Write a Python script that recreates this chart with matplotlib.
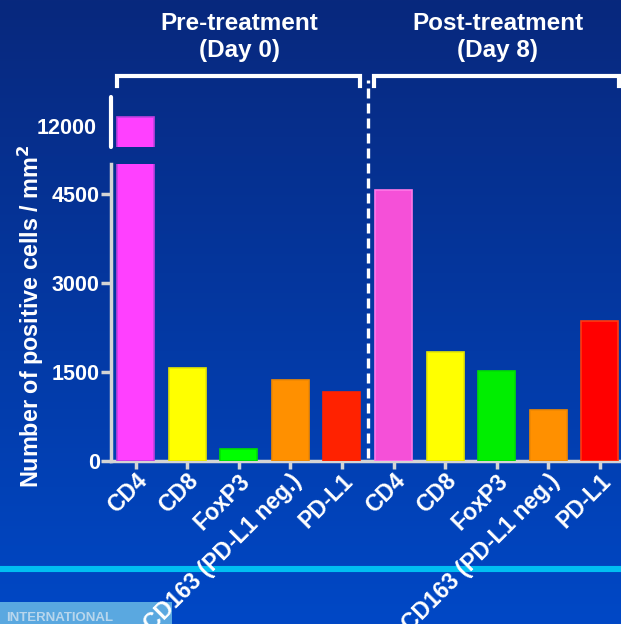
import matplotlib
matplotlib.use("Agg")
import matplotlib.pyplot as plt
import numpy as np
from matplotlib.lines import Line2D
from matplotlib.patches import Rectangle

# FIGURE SIZE (pixels)
WIDTH = 621
HEIGHT = 624
DPI = 100

# DATA
markers = ["CD4", "CD8", "FoxP3", "CD163 (PD-L1 neg.)", "PD-L1"]
pre_values = [12340, 1560, 210, 1360, 1160]
post_values = [4560, 1830, 1520, 860, 2360]
pre_colors = ["#ff40ff", "#ffff00", "#00ff00", "#ff9000", "#ff2200"]
post_colors = ["#f550d8", "#ffff00", "#00ee00", "#ff9000", "#ff0000"]
pre_edges = ["#c040e0", "#e8e800", "#00e000", "#f08800", "#ff2200"]
post_edges = ["#ff78e8", "#e8e800", "#00e000", "#f08800", "#ff3a10"]
yticks_low = [0, 1500, 3000, 4500]
yticks_high = [12000]
group_titles = ["Pre-treatment\n(Day 0)", "Post-treatment\n(Day 8)"]

labels = markers + markers
values = np.array(pre_values + post_values)
colors = pre_colors + post_colors
edges = pre_edges + post_edges
xpos = np.arange(len(values))

FONT = ["Liberation Sans", "DejaVu Sans"]
NARROW = ["Liberation Sans Narrow", "Liberation Sans", "DejaVu Sans"]
SPINE_GRAY = "#d4d4d4"


def px(x, y):
    # pixel (from top-left) -> figure fraction
    return x / WIDTH, 1 - y / HEIGHT


fig = plt.figure(figsize=(WIDTH / DPI, HEIGHT / DPI), dpi=DPI)

# BACKGROUND GRADIENT
bg = fig.add_axes([0, 0, 1, 1], zorder=-10)
top = np.array([8, 40, 125]) / 255
bottom = np.array([0, 72, 198]) / 255
t = np.linspace(0, 1, 256)[:, None]
grad = top + (bottom - top) * t
bg.imshow(grad[:, None, :].repeat(2, axis=1), aspect="auto", extent=[0, 1, 0, 1],
          origin="upper")
bg.set_xlim(0, 1)
bg.set_ylim(0, 1)
bg.axis("off")

# AXES LAYOUT
X0 = 111
STEP = 51.6
XC0 = 135.5
xl = -(XC0 - X0) / STEP
xr = 9.6
ax_w = (xr - xl) * STEP

low_bottom, low_top = 461, 164
ax = fig.add_axes([X0 / WIDTH, 1 - low_bottom / HEIGHT, ax_w / WIDTH,
                   (low_bottom - low_top) / HEIGHT])
hi_bottom, hi_top = 147, 97
ax2 = fig.add_axes([X0 / WIDTH, 1 - hi_bottom / HEIGHT, ax_w / WIDTH,
                    (hi_bottom - hi_top) / HEIGHT])

for a in (ax, ax2):
    a.set_facecolor("none")
    a.bar(xpos, values, width=0.72, color=colors, edgecolor=edges, linewidth=1.2,
          zorder=3)
    a.set_xlim(xl, xr)
    for s in ("top", "right"):
        a.spines[s].set_visible(False)

# lower part
ax.set_ylim(0, 5000)
ax.set_yticks(yticks_low)
ax.set_yticklabels([str(v) for v in yticks_low], family=NARROW, weight="bold",
                   fontsize=15.5, color="white")
ax.set_xticks(xpos)
ax.set_xticklabels(labels, rotation=45, ha="right", va="top",
                   rotation_mode="anchor", family=FONT, weight="bold",
                   fontsize=16.5, color="white")
ax.tick_params(axis="y", direction="out", length=7, width=2.5, color=SPINE_GRAY,
               pad=1)
ax.tick_params(axis="x", direction="out", length=6, width=2.5, color=SPINE_GRAY,
               pad=0)
for s in ("left", "bottom"):
    ax.spines[s].set_color(SPINE_GRAY)
    ax.spines[s].set_linewidth(2.5)

# upper part (broken axis)
ax2.set_ylim(11200, 13100)
ax2.set_yticks(yticks_high)
ax2.set_yticklabels([str(v) for v in yticks_high], family=NARROW, weight="bold",
                    fontsize=15.5, color="white")
ax2.tick_params(axis="y", length=0, pad=10)
ax2.spines["left"].set_color("white")
ax2.spines["left"].set_linewidth(3)
ax2.spines["left"].set_capstyle("round")
ax2.spines["bottom"].set_visible(False)
ax2.set_xticks([])

# dashed separator between groups
xsep = X0 + (4.5 - xl) * STEP
fig.add_artist(Line2D([xsep / WIDTH] * 2, [1 - 458 / HEIGHT, 1 - 80 / HEIGHT],
                      color="white", linewidth=2.4, linestyle=(0, (3, 1.5))))

# group brackets and titles
brackets = [(117, 360), (374, 619)]
for (xa, xb), title in zip(brackets, group_titles):
    ys = [1 - 86 / HEIGHT, 1 - 76 / HEIGHT, 1 - 76 / HEIGHT, 1 - 86 / HEIGHT]
    fig.add_artist(Line2D([xa / WIDTH, xa / WIDTH, xb / WIDTH, xb / WIDTH], ys,
                          color="white", linewidth=3, solid_joinstyle="miter"))
    cx = (xa + xb) / 2 + 1
    fig.text(cx / WIDTH, 1 - 37 / HEIGHT, title, ha="center", va="center",
             family=FONT, weight="bold", fontsize=17.5, color="white",
             linespacing=1.22)

# y axis title
fig.text(31 / WIDTH, 1 - 316 / HEIGHT, "Number of positive cells / mm$^\\mathbf{2}$",
         rotation=90, ha="center", va="center", family=FONT, weight="bold",
         fontsize=16.8, color="white")

# cyan rule and footer logo strip
fig.add_artist(Line2D([0, 1], [1 - 569 / HEIGHT] * 2, color="#00bff2",
                      linewidth=4.4, zorder=-5))
fig.add_artist(Rectangle(px(0, 624), 172 / WIDTH, 22 / HEIGHT,
                         facecolor="#5aa8e0", edgecolor="none", zorder=-5))
fig.text(6 / WIDTH, 1 - 618 / HEIGHT, "INTERNATIONAL", ha="left", va="center",
         family=FONT, weight="bold", fontsize=9.5, color="#d0e2f0", alpha=0.8,
         zorder=-4)

fig.savefig("out.png", dpi=DPI)
